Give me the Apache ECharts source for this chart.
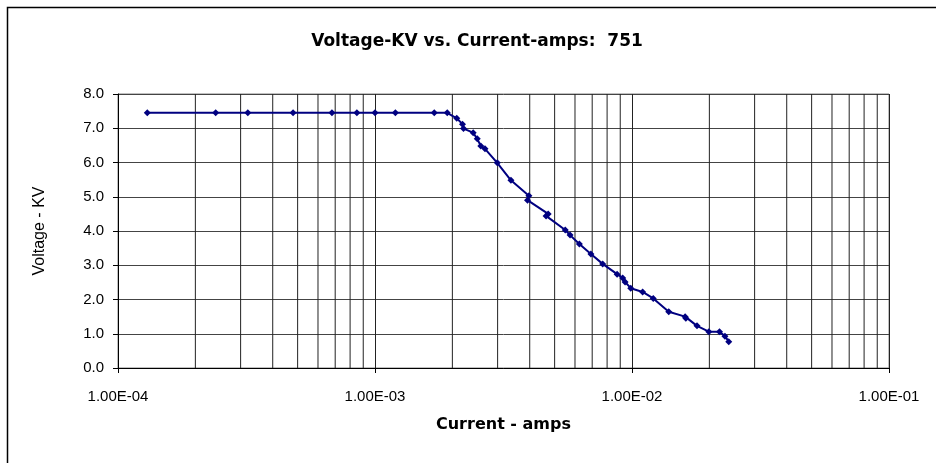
<!DOCTYPE html>
<html>
<head>
<meta charset="utf-8">
<script src="https://cdn.jsdelivr.net/npm/echarts@6/dist/echarts.min.js"></script>
<style>
html,body{margin:0;padding:0;background:#fff;}
#chart{width:936px;height:463px;}
</style>
</head>
<body>
<div id="chart"></div>
<script>
// Current (amps) values
var currentAmps = [1.3e-4, 2.4e-4, 3.2e-4, 4.8e-4, 6.8e-4, 8.5e-4, 1.0e-3, 1.2e-3, 1.7e-3, 1.91e-3,
  2.08e-3, 2.19e-3, 2.21e-3, 2.41e-3, 2.50e-3, 2.58e-3, 2.68e-3, 2.99e-3, 3.38e-3, 3.97e-3, 3.92e-3,
  4.72e-3, 4.63e-3, 5.50e-3, 5.74e-3, 6.24e-3, 6.92e-3, 7.69e-3, 8.75e-3, 9.20e-3, 9.40e-3, 9.89e-3,
  1.10e-2, 1.21e-2, 1.39e-2, 1.61e-2, 1.62e-2, 1.79e-2, 1.99e-2, 2.19e-2, 2.30e-2, 2.38e-2];
// Voltage (KV) values
var voltageKV = [7.45, 7.45, 7.45, 7.45, 7.45, 7.45, 7.45, 7.45, 7.45, 7.45,
  7.29, 7.12, 6.99, 6.87, 6.69, 6.48, 6.40, 5.99, 5.48, 5.03, 4.90,
  4.50, 4.44, 4.03, 3.88, 3.62, 3.33, 3.04, 2.74, 2.63, 2.51, 2.33,
  2.22, 2.03, 1.64, 1.50, 1.45, 1.23, 1.06, 1.06, 0.93, 0.77];
// Axis tick labels
var xTickLabels = ['1.00E-04', '1.00E-03', '1.00E-02', '1.00E-01'];
var yTickLabels = ['0.0', '1.0', '2.0', '3.0', '4.0', '5.0', '6.0', '7.0', '8.0'];
// Minor vertical gridline positions (log axis)
var minorGrid = [2e-4, 3e-4, 4e-4, 5e-4, 6e-4, 7e-4, 8e-4, 9e-4,
  2e-3, 3e-3, 4e-3, 5e-3, 6e-3, 7e-3, 8e-3, 9e-3,
  2e-2, 3e-2, 4e-2, 5e-2, 6e-2, 7e-2, 8e-2, 9e-2];

var chart = echarts.init(document.getElementById('chart'), null, {renderer: 'canvas'});
var pts = currentAmps.map(function (c, i) { return [c, voltageKV[i]]; });
var FONT = '"Liberation Sans", Arial, sans-serif';
var BFONT = '"DejaVu Sans", "Liberation Sans", Arial, sans-serif';

var series = minorGrid.map(function (v) {
  return {
    type: 'line', data: [[v, 0], [v, 8]], silent: true, symbol: 'none',
    lineStyle: {color: '#222', width: 1}, z: 1, animation: false
  };
});
series.push({
  type: 'line', data: pts,
  lineStyle: {color: '#000080', width: 2},
  itemStyle: {color: '#000080'},
  symbol: 'diamond', symbolSize: 7, showSymbol: true,
  z: 5
});

chart.setOption({
  backgroundColor: '#fff',
  animation: false,
  title: {
    text: 'Voltage-KV vs. Current-amps:  751',
    left: 472, top: 28, textAlign: 'center',
    textStyle: {fontFamily: BFONT, fontSize: 17, fontWeight: 'bold', color: '#000'}
  },
  graphic: [{
    type: 'rect', silent: true, z: -1,
    shape: {x: 7.5, y: 7.5, width: 960, height: 480},
    style: {fill: 'none', stroke: '#000', lineWidth: 1.5}
  }],
  grid: {left: 118, right: 47, top: 94, bottom: 95, show: true, borderColor: '#808080', borderWidth: 1},
  xAxis: {
    type: 'log', logBase: 10, min: 1e-4, max: 1e-1,
    name: 'Current - amps', nameLocation: 'middle', nameGap: 49,
    nameTextStyle: {fontFamily: BFONT, fontSize: 16, fontWeight: 'bold', color: '#000'},
    axisLine: {show: true, onZero: false, lineStyle: {color: '#000', width: 1}},
    axisTick: {show: true, length: 5, inside: false, lineStyle: {color: '#000'}},
    axisLabel: {
      fontFamily: FONT, fontSize: 15, color: '#000', margin: 21,
      formatter: function (v) { return xTickLabels[Math.round(Math.log10(v)) + 4]; }
    },
    splitLine: {show: true, lineStyle: {color: '#222', width: 1}}
  },
  yAxis: {
    type: 'value', min: 0, max: 8, interval: 1,
    name: 'Voltage - KV', nameLocation: 'middle', nameGap: 70, nameRotate: 90,
    nameTextStyle: {fontFamily: FONT, fontSize: 16, color: '#000'},
    axisLine: {show: true, lineStyle: {color: '#000', width: 1}},
    axisTick: {show: true, length: 5, inside: false, lineStyle: {color: '#000'}},
    axisLabel: {
      fontFamily: FONT, fontSize: 15, color: '#000', margin: 14,
      formatter: function (v) { return yTickLabels[Math.round(v)]; }
    },
    splitLine: {show: true, lineStyle: {color: '#444', width: 1}}
  },
  series: series
});
</script>
</body>
</html>
